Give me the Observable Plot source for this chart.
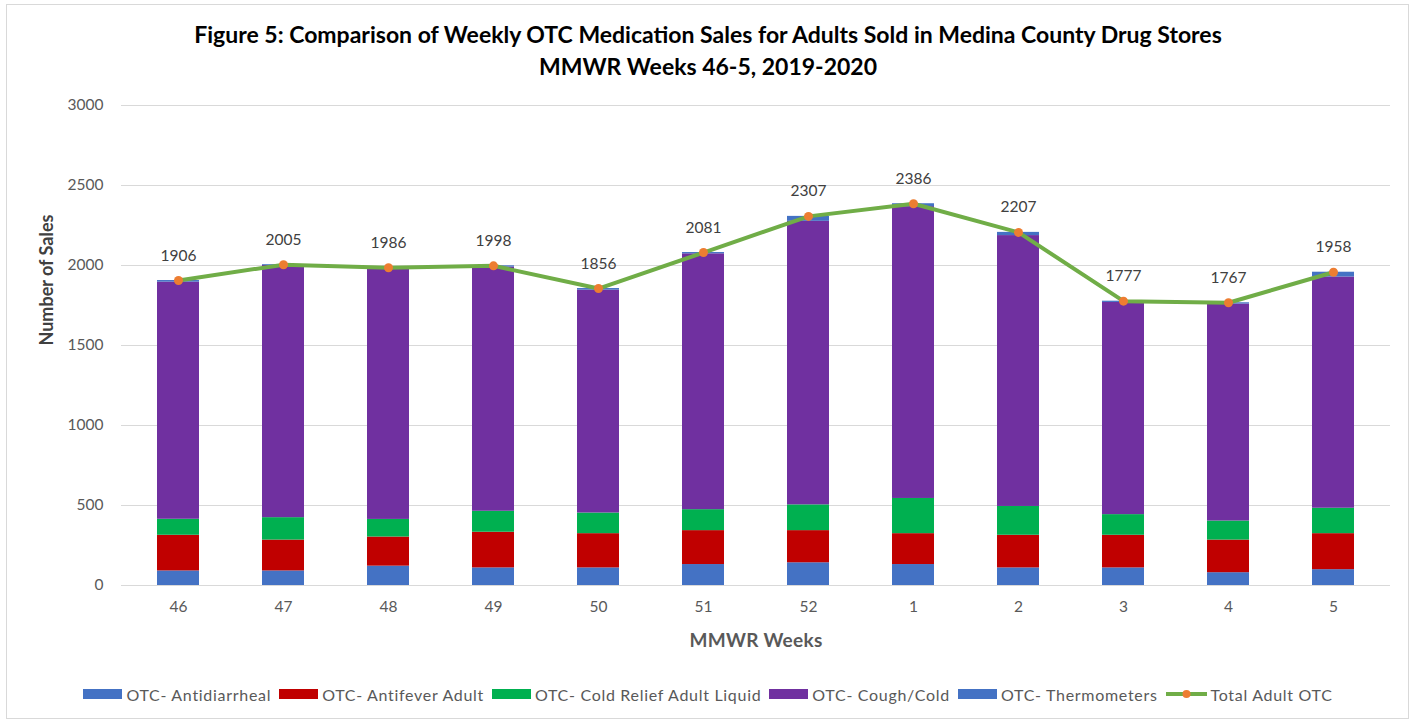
<!DOCTYPE html>
<html>
<head>
<meta charset="utf-8">
<script src="https://cdn.jsdelivr.net/npm/d3@7"></script>
<script src="https://cdn.jsdelivr.net/npm/@observablehq/plot@0.6"></script>
<style>
  html, body { margin: 0; padding: 0; background: #fff; }
  #frame { position: absolute; left: 6px; top: 4px; width: 1403px; height: 715px; border: 1px solid #d9d9d9; box-sizing: border-box; }
  #title { position: absolute; left: 0; top: 18px; width: 1416px; text-align: center; font-family: Lato, sans-serif; font-weight: bold; font-size: 23px; line-height: 32px; color: #000; }
  #chart { position: absolute; left: 0; top: 0; }
  #legend { position: absolute; left: 0; top: 684px; width: 1416px; height: 20px; display: flex; justify-content: center; align-items: center; font-family: Lato, sans-serif; font-size: 16px; letter-spacing: 0.7px; color: #595959; }
  .item { display: flex; align-items: center; margin: 0 4px; }
  .sw { width: 39px; height: 10px; margin-right: 4px; }
  .txt { white-space: nowrap; }
</style>
</head>
<body>
<div id="frame"></div>
<div id="title">Figure 5: Comparison of Weekly OTC Medication Sales for Adults Sold in Medina County Drug Stores<br>MMWR Weeks 46-5, 2019-2020</div>
<div id="chart"></div>
<div id="legend"></div>
<script>
const weeks = ["46","47","48","49","50","51","52","1","2","3","4","5"];
const seriesNames = ["OTC- Antidiarrheal","OTC- Antifever Adult","OTC- Cold Relief Adult Liquid","OTC- Cough/Cold","OTC- Thermometers"];
const seriesColors = ["#4472c4","#c00000","#00b050","#7030a0","#4472c4"];
const antidiarrheal = [91,91,121,110,110,131,142,131,110,110,80,99];
const antifever = [223,193,182,223,214,212,201,193,204,204,204,225];
const coldRelief = [100,140,110,131,129,131,161,220,180,129,119,159];
const coughCold = [1482,1576,1568,1526,1393,1599,1772,1824,1693,1326,1356,1445];
const thermometers = [10,5,5,8,10,8,31,18,20,8,8,30];
const totals = [1906,2005,1986,1998,1856,2081,2307,2386,2207,1777,1767,1958];
const totalName = "Total Adult OTC";
const yTicks = [0,500,1000,1500,2000,2500,3000];
const xTitle = "MMWR Weeks";
const yTitle = "Number of Sales";

const seriesValues = [antidiarrheal, antifever, coldRelief, coughCold, thermometers];
const rows = [];
weeks.forEach((w, i) => {
  seriesValues.forEach((vals, s) => rows.push({week: w, series: seriesNames[s], value: vals[i]}));
});
const totalRows = weeks.map((w, i) => ({week: w, total: totals[i]}));

const chart = Plot.plot({
  width: 1416,
  height: 670,
  marginTop: 105,
  marginBottom: 85,
  marginLeft: 121,
  marginRight: 26,
  x: {domain: weeks, paddingInner: 0.6, paddingOuter: 0.3, label: null},
  y: {domain: [0, 3000], label: null},
  color: {domain: seriesNames, range: seriesColors},
  style: {fontFamily: "Lato, sans-serif", fontSize: "15px", color: "#595959", background: "transparent", overflow: "visible"},
  marks: [
    Plot.gridY(yTicks, {stroke: "#d9d9d9", strokeOpacity: 1, strokeWidth: 1}),
    Plot.barY(rows, {x: "week", y: "value", fill: "series"}),
    Plot.line(totalRows, {x: "week", y: "total", stroke: "#70ad47", strokeWidth: 4, strokeLinejoin: "round", strokeLinecap: "round"}),
    Plot.dot(totalRows, {x: "week", y: "total", r: 4.5, fill: "#ed7d31", stroke: "none"}),
    Plot.text(totalRows, {x: "week", y: "total", text: d => String(d.total), dy: -25, fill: "#404040", fontSize: 15.5}),
    Plot.axisX({tickSize: 0, tickPadding: 15, label: null, fontSize: 15.5, fill: "#595959"}),
    Plot.axisY({ticks: yTicks, tickFormat: d => String(d), tickSize: 0, tickPadding: 18, label: null, fontSize: 15.5, fill: "#595959"}),
    Plot.text([xTitle], {text: d => d, frameAnchor: "bottom", dy: 61, fontWeight: "bold", fontSize: 19, fill: "#595959"}),
    Plot.text([yTitle], {text: d => d, frameAnchor: "left", dx: -74, rotate: -90, fontWeight: "bold", fontSize: 18, fill: "#404040"})
  ]
});
d3.select(chart).selectAll("text").filter(function() { return this.textContent === xTitle; }).style("letter-spacing", "0.3px");
document.getElementById("chart").appendChild(chart);

const legend = document.getElementById("legend");
seriesNames.forEach((name, i) => {
  const item = document.createElement("div");
  item.className = "item";
  item.innerHTML = `<div class="sw" style="background:${seriesColors[i]}"></div><span class="txt">${name}</span>`;
  legend.appendChild(item);
});
const lineItem = document.createElement("div");
lineItem.className = "item";
lineItem.innerHTML = `<svg width="41" height="12" style="margin-right:4px"><line x1="0" x2="41" y1="6" y2="6" stroke="#70ad47" stroke-width="4"/><circle cx="20.5" cy="6" r="4" fill="#ed7d31"/></svg><span class="txt">${totalName}</span>`;
legend.appendChild(lineItem);
</script>
</body>
</html>
